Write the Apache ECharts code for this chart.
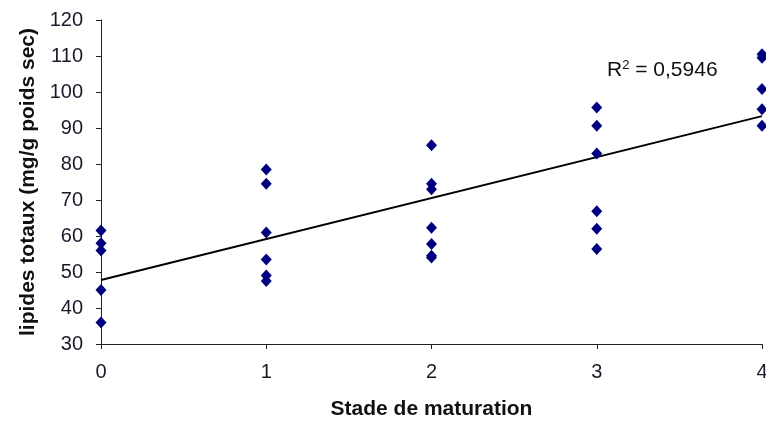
<!DOCTYPE html>
<html>
<head>
  <meta charset="utf-8">
  <title>Lipides totaux</title>
  <style>
    html, body { margin: 0; padding: 0; background: #fff; }
  </style>
</head>
<body>
  <div id="main" style="width: 766px;height:423px;"></div>
</body>
<script src="https://cdn.jsdelivr.net/npm/echarts@6/dist/echarts.min.js"></script>
<script>
// points, one array per stage
let stade0 = [61.5, 58, 56, 45, 36];
let stade1 = [78.5, 74.5, 61, 53.5, 49, 47.5];
let stade2 = [85.2, 74.5, 73, 62.3, 57.8, 54.5, 54];
let stade3 = [95.7, 90.6, 82.9, 66.9, 62, 56.4];
let stade4 = [110.5, 109.5, 100.8, 95.2, 90.6];
// trend line ends (x, y)
let trendX = [0, 4];
let trendY = [47.8, 93.3];
let xTicks = [0, 1, 2, 3, 4];

let points = [];
[stade0, stade1, stade2, stade3, stade4].forEach((arr, i) => {
    arr.forEach(v => points.push([xTicks[i], v]));
});
let trend = trendX.map((x, i) => [x, trendY[i]]);

let myChart = echarts.init(document.querySelector('#main'));

let font = 'Liberation Sans, Arial, sans-serif';

let option = {
    animation: false,
    grid: {
        left: 101,
        right: 4,
        top: 20,
        bottom: 79,
        outerBoundsMode: 'none',
        containLabel: false
    },
    xAxis: {
        type: 'value',
        min: 0,
        max: 4,
        interval: 1,
        name: 'Stade de maturation',
        nameLocation: 'middle',
        nameGap: 55,
        nameTextStyle: {
            fontFamily: font,
            fontSize: 21,
            fontWeight: 'bold',
            color: '#111'
        },
        splitLine: { show: false },
        axisLine: { lineStyle: { color: '#222', width: 1 } },
        axisTick: { length: 5, lineStyle: { color: '#222' } },
        axisLabel: {
            margin: 18,
            fontFamily: font,
            fontSize: 20,
            color: '#1a1a2a'
        }
    },
    yAxis: {
        type: 'value',
        min: 30,
        max: 120,
        interval: 10,
        name: 'lipides totaux (mg/g poids sec)',
        nameLocation: 'middle',
        nameGap: 62,
        nameRotate: 90,
        nameTextStyle: {
            fontFamily: font,
            fontSize: 21,
            fontWeight: 'bold',
            color: '#111'
        },
        splitLine: { show: false },
        axisLine: { show: true, lineStyle: { color: '#222', width: 1 } },
        axisTick: { show: true, length: 5, lineStyle: { color: '#222' } },
        axisLabel: {
            margin: 18,
            fontFamily: font,
            fontSize: 20,
            color: '#1a1a2a'
        }
    },
    graphic: [{
        type: 'text',
        left: 607,
        top: 59,
        style: {
            text: '{a|R}{s|2}{a| = 0,5946}',
            rich: {
                a: { fontFamily: font, fontSize: 21, fill: '#111', verticalAlign: 'bottom' },
                s: { fontFamily: font, fontSize: 13, fill: '#111', verticalAlign: 'top', padding: [0, 0, 9, 0] }
            }
        }
    }],
    series: [
        {
            name: 'tendance',
            type: 'line',
            data: trend,
            symbol: 'none',
            lineStyle: { color: '#000', width: 2 },
            z: 2
        },
        {
            name: 'lipides',
            type: 'scatter',
            data: points,
            symbol: 'diamond',
            symbolSize: [11, 12],
            itemStyle: { color: '#00007f', opacity: 1 },
            z: 3
        }
    ]
};
myChart.setOption(option);
</script>
</html>
